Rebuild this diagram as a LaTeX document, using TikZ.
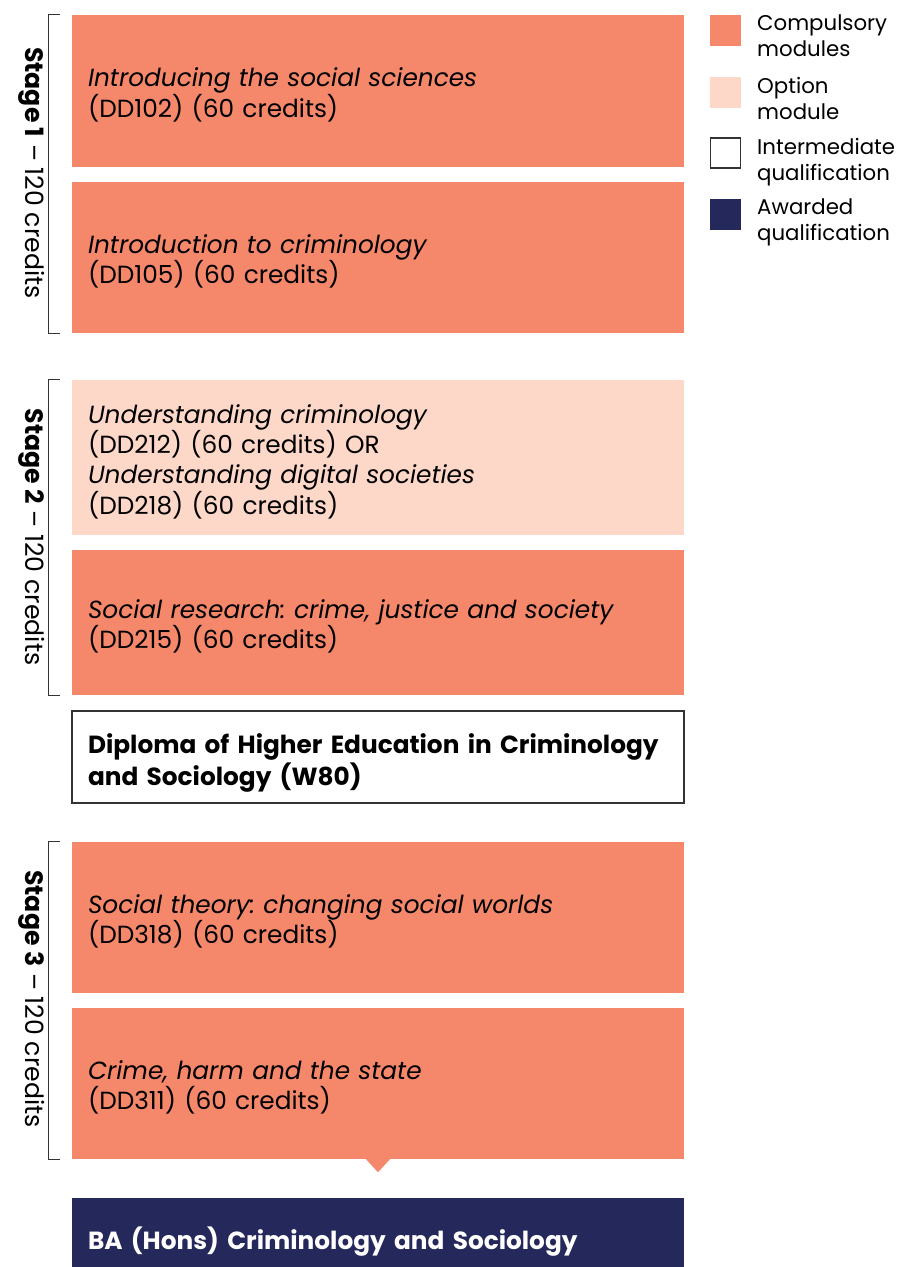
\documentclass[tikz,border=0pt]{standalone}
\usepackage{fontspec}
\setmainfont{Poppins}
\definecolor{salmon}{HTML}{F5876A}
\definecolor{optpink}{HTML}{FDD7C8}
\definecolor{navy}{HTML}{25285A}
\definecolor{ink}{HTML}{333333}
\begin{document}
\frenchspacing
\begin{tikzpicture}[x=1pt,y=-1pt,
  modbox/.style={rectangle, minimum width=612, inner sep=0},
  comp/.style={modbox, fill=salmon},
  opt/.style={modbox, fill=optpink},
  inter/.style={modbox, draw=ink, line width=1.2, fill=white},
  award/.style={modbox, fill=navy},
  boxtext/.style={text width=580, align=left, inner sep=0, font=\fontsize{24.8}{30.3}\selectfont},
  intertext/.style={boxtext, font=\fontsize{24.8}{32}\selectfont\bfseries},
  awardtext/.style={boxtext, text=white, font=\fontsize{24.8}{30}\selectfont\bfseries},
  bracket/.style={draw=ink, line width=1.3},
  stagelbl/.style={rotate=-90, font=\fontsize{25.2}{28}\selectfont},
  legsq/.style={rectangle, minimum size=31, inner sep=0},
  legtxt/.style={anchor=north west, inner sep=0, align=left, font=\fontsize{21.3}{26}\selectfont}
]
\useasboundingbox (0,0) rectangle (898,1267);
\clip (0,0) rectangle (898,1267);
\fill[white] (0,0) rectangle (898,1267);

% Stage 1
\node[comp, minimum height=152] (m1) at (378,91) {};
\node[boxtext] (m1t) at ([yshift=-4]m1.center) {\textit{Introducing the social sciences}\\(DD102) (60 credits)};
\node[comp, minimum height=151] (m2) at (378,257.5) {};
\node[boxtext] (m2t) at ([yshift=-4]m2.center) {\textit{Introduction to criminology}\\(DD105) (60 credits)};
% Stage 2
\node[opt, minimum height=155] (m3) at (378,457.5) {};
\node[boxtext] (m3t) at ([yshift=-4]m3.center) {\textit{Understanding criminology}\\(DD212) (60 credits) OR\\\textit{Understanding digital societies}\\(DD218) (60 credits)};
\node[comp, minimum height=145] (m4) at (378,622.5) {};
\node[boxtext] (m4t) at ([yshift=-4]m4.center) {\textit{Social research: crime, justice and society}\\(DD215) (60 credits)};
\node[inter, minimum height=92] (dip) at (378,757) {};
\node[intertext] (dipt) at ([yshift=-6]dip.center) {Diploma of Higher Education in Criminology\\and Sociology (W80)};
% Stage 3
\node[comp, minimum height=151] (m5) at (378,917.5) {};
\node[boxtext] (m5t) at ([yshift=-4]m5.center) {\textit{Social theory: changing social worlds}\\(DD318) (60 credits)};
\node[comp, minimum height=151] (m6) at (378,1083.5) {};
\node[boxtext] (m6t) at ([yshift=-4]m6.center) {\textit{Crime, harm and the state}\\(DD311) (60 credits)};
\fill[salmon] ([xshift=-12]m6.south) -- ([yshift=-13]m6.south) -- ([xshift=12]m6.south) -- cycle;
\node[award, minimum height=86] (ba) at (378,1241) {};
\node[awardtext] (bat) at ([yshift=-1]ba.center) {BA (Hons) Criminology and Sociology};

% Brackets
\draw[bracket] ([xshift=-12]m1.north west) -- ++(-11,0) |- ([xshift=-12]m2.south west);
\draw[bracket] ([xshift=-12]m3.north west) -- ++(-11,0) |- ([xshift=-12]m4.south west);
\draw[bracket] ([xshift=-12]m5.north west) -- ++(-11,0) |- ([xshift=-12]m6.south west);
\node[stagelbl] (s1) at (32,173) {\textbf{Stage 1} – 120 credits};
\node[stagelbl] (s2) at (32,537) {\textbf{Stage 2} – 120 credits};
\node[stagelbl] (s3) at (32,999) {\textbf{Stage 3} – 120 credits};

% Legend
\node[legsq, fill=salmon] (l1) at (725.5,30) {};
\node[legsq, fill=optpink] (l2) at (725.5,92) {};
\node[legsq, draw=ink, line width=1.2, fill=white, minimum size=30] (l3) at (725.5,153) {};
\node[legsq, fill=navy] (l4) at (725.5,214) {};
\node[legtxt] (t1) at (757,15) {Compulsory\\modules};
\node[legtxt] (t2) at (757,77) {Option\\module};
\node[legtxt] (t3) at (757,138) {Intermediate\\qualification};
\node[legtxt] (t4) at (757,199) {Awarded\\qualification};
\end{tikzpicture}
\end{document}
